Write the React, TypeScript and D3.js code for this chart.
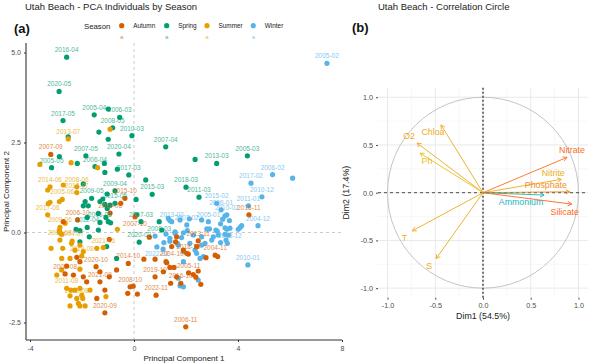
import React, { useEffect, useRef } from 'react'
import * as d3 from 'd3'

type Pt = [number, number, string]

// ---- panel (a): PCA individuals, [PC1, PC2, label]
const seasons = ['Autumn', 'Spring', 'Summer', 'Winter']
const seasonColors = ['#D55E00', '#009E73', '#E69F00', '#56B4E9']

const autumn: Pt[] = [
  [-3.20, 2.17, '2007-09'], [-0.35, 0.95, '2015-10'], [-0.51, 0.81, ''], [-2.17, 0.35, '2006-10'],
  [-2.72, 0.30, ''], [-0.92, 0.54, '2014-08'], [0.04, 0.44, '2007-10'], [0.59, -0.13, ''],
  [-0.95, -0.19, ''], [-2.20, -0.69, ''], [-2.08, -0.81, ''], [-2.59, -0.93, ''],
  [-2.65, -1.15, '2008-08'], [-2.33, -1.18, ''], [-1.95, -1.23, ''], [-1.31, -1.09, ''],
  [-1.46, -0.95, '2020-10'], [-0.95, -1.23, ''], [-0.67, -1.04, ''], [-1.31, -1.37, '2021-09'],
  [-1.82, -1.37, ''], [-1.12, -1.60, ''], [-1.43, -1.83, ''], [-1.12, -2.23, '2020-09'],
  [-0.22, -0.86, '2014-10'], [-0.15, -1.51, '2008-10'], [-0.03, -1.49, ''], [0.13, -1.71, ''],
  [-0.24, -1.69, ''], [0.38, -0.74, ''], [0.81, -0.74, ''], [1.26, -0.84, ''],
  [1.38, -0.97, ''], [0.81, -1.23, '2019-10'], [0.85, -1.74, '2022-11'], [1.41, -1.41, ''],
  [1.64, -1.23, ''], [1.13, -1.09, ''], [1.54, -0.97, ''], [1.80, -1.41, '2016-10'],
  [2.10, -1.12, '2005-11'], [2.28, -1.17, ''], [2.47, -1.07, ''], [2.38, -1.24, ''],
  [2.57, -1.44, ''], [1.99, -2.62, '2006-11'], [1.45, -0.39, '2004-10'], [1.90, -0.49, ''],
  [2.09, -0.60, '2018-10'], [1.23, -0.81, ''], [1.60, -0.26, ''], [2.47, -0.23, '2013-11'],
  [1.64, -0.12, ''], [2.41, -0.39, ''], [3.12, -0.63, '2004-11'], [3.22, -0.67, ''],
  [2.77, -0.70, ''], [4.42, 0.49, '2016-11'], [2.03, -0.58, ''],
]

const spring: Pt[] = [
  [-2.59, 4.87, '2016-04'], [-2.88, 3.92, '2020-05'], [-1.53, 3.27, '2005-04'], [-0.99, 3.43, ''],
  [-0.55, 3.20, '2006-03'], [-2.73, 3.11, '2017-05'], [-0.82, 2.91, '2008-05'], [-1.35, 2.79, ''],
  [-2.53, 2.66, ''], [-0.08, 2.69, '2010-03'], [-0.99, 2.59, ''], [1.22, 2.38, '2007-04'],
  [-1.85, 2.13, '2007-05'], [-0.58, 2.18, '2020-04'], [-2.87, 2.11, ''], [-3.17, 1.80, '2005-05'],
  [-2.18, 1.92, ''], [-1.50, 1.83, '2006-04'], [-1.14, 1.92, ''], [-1.12, 1.67, ''],
  [-0.64, 1.76, ''], [-0.20, 1.60, '2017-03'], [2.35, 2.03, ''], [0.45, 1.46, ''],
  [2.00, 1.26, '2018-03'], [0.70, 1.06, '2015-03'], [-0.73, 1.16, '2009-04'], [-1.95, 1.35, ''],
  [-1.63, 0.95, '2009-05'], [-1.20, 0.93, ''], [-1.03, 1.07, ''], [0.08, 0.92, ''],
  [2.50, 0.98, '2011-03'], [3.18, 1.92, '2013-03'], [4.36, 2.13, '2005-03'], [-1.31, 0.86, ''],
  [-1.88, 0.86, ''], [-0.92, 0.76, ''], [-1.12, 0.78, ''], [-1.03, 0.67, ''],
  [-0.73, 0.81, '2015-05'], [-1.37, 0.53, ''], [-1.08, 0.42, ''], [-1.80, 0.42, ''],
  [-1.31, 0.28, '2006-05'], [-0.99, 0.30, ''], [-0.90, 0.27, ''], [0.10, 0.49, ''],
  [0.97, 0.30, '2008-03'], [0.27, 0.30, '2007-03'], [0.20, -0.27, '2020-03'], [1.07, 0.07, ''],
  [-2.23, 0.09, ''], [-2.08, 0.05, ''], [-1.80, 0.14, '2012-04'], [-1.37, 0.07, ''],
  [-2.08, -0.26, ''], [-1.72, -0.12, ''], [-1.05, -0.39, ''], [-0.67, -0.72, ''],
  [-1.95, 0.74, ''], [-1.76, 0.74, ''],
]

const summer: Pt[] = [
  [-2.53, 2.60, '2013-07'], [-0.92, 2.87, ''], [-3.62, 1.89, ''], [-2.42, 1.94, ''],
  [-1.40, 1.80, ''], [-3.23, 1.27, '2014-06'], [-3.32, 1.18, ''], [-2.20, 1.27, '2008-06'],
  [-2.72, 1.32, ''], [-2.76, 0.92, '2005-06'], [-2.20, 1.11, '2012-07'], [-2.87, 0.86, ''],
  [-3.23, 0.84, ''], [-3.32, 0.49, '2017-06'], [-0.64, 0.09, ''], [-2.65, 0.26, ''],
  [-2.85, 0.14, '2009-06'], [-2.85, -0.01, ''], [-2.78, -0.05, ''], [-2.87, 0.05, ''],
  [-2.38, -0.24, '2004-07'], [-2.85, -0.21, '2009-07'], [-3.19, -0.44, ''], [-2.74, -0.44, ''],
  [-2.40, -0.30, ''], [-2.27, -0.49, ''], [-1.95, -0.53, ''], [-2.08, -0.35, ''],
  [-1.43, -0.44, ''], [-1.18, -0.42, '2021-06'], [-2.78, -0.72, ''], [-2.46, -0.72, ''],
  [-2.01, -0.65, '2019-08'], [-2.78, -1.04, ''], [-2.97, -1.18, ''], [-2.08, -1.02, ''],
  [-2.59, -1.55, '2011-08'], [-2.43, -1.60, ''], [-2.27, -1.60, ''], [-2.08, -1.55, ''],
  [-1.69, -1.60, ''], [-2.46, -1.76, ''], [-2.01, -1.74, ''], [-2.20, -1.83, '2013-08'],
  [-1.97, -1.83, ''], [-1.08, -1.78, ''], [-2.46, -2.04, ''], [-2.14, -1.97, ''],
  [-2.08, -2.04, ''], [-1.88, -2.04, ''], [-3.30, 0.80, ''],
]

const winter: Pt[] = [
  [7.42, 4.70, '2005-02'], [5.33, 1.61, '2006-02'], [6.10, 1.51, ''], [4.50, 1.37, '2017-02'],
  [4.92, 0.99, '2010-12'], [4.40, 0.74, '2011-01'], [3.18, 0.81, '2015-02'], [3.35, 0.63, '2006-01'],
  [3.57, 0.49, '2010-02'], [3.41, 0.37, ''], [3.67, 0.33, ''], [3.33, 0.24, ''],
  [4.77, 0.19, '2004-12'], [4.14, 0.19, ''], [4.08, 0.14, ''], [4.01, 0.09, ''],
  [3.50, 0.13, ''], [3.57, 0.09, ''], [3.69, 0.12, '2008-12'], [3.20, 0.04, ''],
  [2.80, 0.10, ''], [2.90, 0.10, ''], [2.60, 0.35, ''], [2.86, 0.30, '2005-01'],
  [2.13, 0.38, ''], [2.03, 0.21, '2007-02'], [1.45, 0.30, '2013-02'], [1.38, 0.33, ''],
  [1.77, 0.35, ''], [1.32, 0.39, ''], [1.23, -0.04, ''], [1.58, -0.02, ''],
  [1.38, -0.16, ''], [1.83, -0.14, ''], [1.67, -0.30, ''], [0.81, -0.10, ''],
  [1.15, -0.28, ''], [1.70, -0.35, ''], [2.15, -0.30, ''], [2.73, -0.30, ''],
  [2.99, -0.21, ''], [3.33, -0.28, ''], [3.54, -0.21, ''], [3.59, -0.30, ''],
  [3.24, -0.07, ''], [3.50, -0.05, ''], [2.60, -0.12, ''], [2.28, -0.07, ''],
  [2.05, 0.05, ''], [1.90, -0.01, ''], [1.58, 0.02, ''], [1.38, -0.24, ''],
  [1.90, -0.53, ''], [2.41, -0.58, ''], [2.54, -0.72, ''], [2.60, -0.35, ''],
  [2.35, -0.49, ''], [2.67, -0.67, ''], [4.38, -0.90, '2010-01'], [1.90, -0.81, ''],
  [1.90, -1.51, ''], [1.77, -1.48, ''], [2.47, -1.32, ''], [3.50, 0.46, ''],
  [3.05, -0.12, ''], [3.63, -0.07, ''], [3.15, 0.07, ''], [1.70, -1.27, ''],
  [0.88, -0.40, '2022-02'], [1.12, -0.46, ''],
]

const pcaTicksX = [-4, 0, 4, 8]
const pcaTicksY = [-2.5, 0, 2.5, 5]

// labels that sit under their point instead of above
const labelsBelow = ['2007-10', '2008-03', '2022-02', '2004-10', '2008-12']

// ---- panel (b): variable coordinates on Dim1 / Dim2
const vars = ['Nitrate', 'Nitrite', 'Phosphate', 'Ammonium', 'Silicate', 'T', 'S', 'Chloa', 'O2', 'Ph']
const dim1 = [0.88, 0.82, 0.91, 0.64, 0.93, -0.74, -0.49, -0.44, -0.69, -0.66]
const dim2 = [0.37, 0.14, 0.01, -0.025, -0.12, -0.40, -0.69, 0.71, 0.52, 0.415]
const contrib = [14, 11, 12.5, 5, 14.5, 11, 11, 11, 11, 10]
const circleTicks = [-1, -0.5, 0, 0.5, 1]
const circleMinor = [-0.75, -0.25, 0.25, 0.75]

// label nudges (px) for the variable names
const nudges: [number, number][] = [[5, -7], [-8, -6], [-24, -6], [-23, 8], [-7, 9], [-8, 8], [-7, 8], [-8, 8], [-8, -6], [7, 9]]

const font = 'Liberation Sans, Arial, sans-serif'

function App() {
  const svgRef = useRef<SVGSVGElement>(null)

  useEffect(() => {
    const svg = d3.select(svgRef.current)
    svg.selectAll('*').remove()

    // ---------------- panel (a)
    const x = d3.scaleLinear().domain([-4, 8]).range([30, 342])
    const y = d3.scaleLinear().domain([-2.5, 5]).range([322.5, 52.5])
    const left = 26, right = 342, top = 43, bottom = 340

    svg.append('text').attr('x', 25).attr('y', 10).text('Utah Beach - PCA Individuals by Season')
      .attr('font-size', 9.5).attr('fill', '#222').attr('font-family', font)
    svg.append('text').attr('x', 14).attr('y', 33).text('(a)')
      .attr('font-size', 13).attr('font-weight', 'bold').attr('fill', '#111').attr('font-family', font)

    // legend
    const lg = svg.append('g').attr('font-family', font)
    lg.append('text').attr('x', 84).attr('y', 28.5).text('Season').attr('font-size', 7.8).attr('fill', '#222')
    const legX = [121.7, 166.7, 207, 253.3]
    seasons.forEach((s, i) => {
      lg.append('circle').attr('cx', legX[i]).attr('cy', 25.7).attr('r', 2.6).attr('fill', seasonColors[i])
      lg.append('text').attr('x', legX[i] + 11.5).attr('y', 28).text(s).attr('font-size', 6.4).attr('fill', '#222')
      lg.append('text').attr('x', legX[i]).attr('y', 38.5).text('a').attr('font-size', 6)
        .attr('text-anchor', 'middle').attr('fill', seasonColors[i]).attr('opacity', 0.7)
    })

    // zero reference lines
    svg.append('line').attr('x1', x(0)).attr('x2', x(0)).attr('y1', top).attr('y2', bottom)
      .attr('stroke', '#bdbdbd').attr('stroke-width', 0.8).attr('stroke-dasharray', '3,3')
    svg.append('line').attr('x1', left).attr('x2', right).attr('y1', y(0)).attr('y2', y(0))
      .attr('stroke', '#bdbdbd').attr('stroke-width', 0.8).attr('stroke-dasharray', '3,3')

    // axes
    const ax = svg.append('g').attr('transform', `translate(0,${bottom})`)
      .call(d3.axisBottom(x).tickValues(pcaTicksX).tickSize(2).tickFormat(d => String(d)))
    const ay = svg.append('g').attr('transform', `translate(${left},0)`)
      .call(d3.axisLeft(y).tickValues(pcaTicksY).tickSize(2).tickFormat(d => (+d).toFixed(1)))
    ;[ax, ay].forEach(g => {
      g.select('.domain').remove()
      g.selectAll('text').attr('font-size', 7).attr('fill', '#4d4d4d').attr('font-family', font)
      g.selectAll('line').attr('stroke', '#333')
    })
    ax.selectAll('text').attr('dy', '0.8em')
    svg.append('line').attr('x1', left).attr('x2', left).attr('y1', top).attr('y2', bottom)
      .attr('stroke', '#333').attr('stroke-width', 1.1)
    svg.append('line').attr('x1', left).attr('x2', right).attr('y1', bottom).attr('y2', bottom)
      .attr('stroke', '#333').attr('stroke-width', 1.1)

    svg.append('text').attr('x', (left + right) / 2).attr('y', 361).attr('text-anchor', 'middle')
      .text('Principal Component 1').attr('font-size', 8).attr('fill', '#222').attr('font-family', font)
    svg.append('text').attr('transform', `translate(8.5,${(top + bottom) / 2}) rotate(-90)`)
      .attr('text-anchor', 'middle').text('Principal Component 2')
      .attr('font-size', 8).attr('fill', '#222').attr('font-family', font)

    const groups: [Pt[], string][] = [
      [winter, seasonColors[3]], [spring, seasonColors[1]], [summer, seasonColors[2]], [autumn, seasonColors[0]],
    ]
    groups.forEach(([pts, col]) => {
      svg.append('g').selectAll('circle').data(pts).join('circle')
        .attr('cx', d => x(d[0])).attr('cy', d => y(d[1])).attr('r', 2.6).attr('fill', col)
    })
    groups.forEach(([pts, col]) => {
      svg.append('g').selectAll('text').data(pts.filter(d => d[2] !== '')).join('text')
        .attr('x', d => x(d[0]))
        .attr('y', d => labelsBelow.includes(d[2]) ? y(d[1]) + 9.5 : y(d[1]) - 5)
        .attr('text-anchor', 'middle').text(d => d[2])
        .attr('font-size', 6.5).attr('font-family', font).attr('fill', col).attr('opacity', 0.72)
    })

    // ---------------- panel (b)
    const cx = d3.scaleLinear().domain([-1.1, 1.1]).range([378, 588])
    const cy = d3.scaleLinear().domain([-1.1, 1.1]).range([297.7, 87.7])

    svg.append('text').attr('x', 378).attr('y', 10).text('Utah Beach - Correlation Circle')
      .attr('font-size', 9.5).attr('fill', '#222').attr('font-family', font)
    svg.append('text').attr('x', 352).attr('y', 32).text('(b)')
      .attr('font-size', 13).attr('font-weight', 'bold').attr('fill', '#111').attr('font-family', font)

    const grid = svg.append('g')
    circleMinor.forEach(v => {
      grid.append('line').attr('x1', cx(v)).attr('x2', cx(v)).attr('y1', cy(1.1)).attr('y2', cy(-1.1))
        .attr('stroke', '#f2f2f2').attr('stroke-width', 0.6)
      grid.append('line').attr('x1', cx(-1.1)).attr('x2', cx(1.1)).attr('y1', cy(v)).attr('y2', cy(v))
        .attr('stroke', '#f2f2f2').attr('stroke-width', 0.6)
    })
    circleTicks.forEach(v => {
      grid.append('line').attr('x1', cx(v)).attr('x2', cx(v)).attr('y1', cy(1.1)).attr('y2', cy(-1.1))
        .attr('stroke', '#e6e6e6').attr('stroke-width', 0.9)
      grid.append('line').attr('x1', cx(-1.1)).attr('x2', cx(1.1)).attr('y1', cy(v)).attr('y2', cy(v))
        .attr('stroke', '#e6e6e6').attr('stroke-width', 0.9)
    })

    const bx = svg.append('g').attr('transform', `translate(0,${cy(-1.1)})`)
      .call(d3.axisBottom(cx).tickValues(circleTicks).tickSize(2).tickFormat(d => (+d).toFixed(1)))
    const by = svg.append('g').attr('transform', `translate(${cx(-1.1)},0)`)
      .call(d3.axisLeft(cy).tickValues(circleTicks).tickSize(2).tickFormat(d => (+d).toFixed(1)))
    ;[bx, by].forEach(g => {
      g.select('.domain').remove()
      g.selectAll('text').attr('font-size', 7.2).attr('fill', '#4d4d4d').attr('font-family', font)
      g.selectAll('line').attr('stroke', '#4d4d4d')
    })
    bx.selectAll('text').attr('dy', '0.71em')

    svg.append('circle').attr('cx', cx(0)).attr('cy', cy(0)).attr('r', cx(1) - cx(0))
      .attr('fill', 'none').attr('stroke', '#bdbdbd').attr('stroke-width', 0.9)

    svg.append('line').attr('x1', cx(0)).attr('x2', cx(0)).attr('y1', cy(1.1)).attr('y2', cy(-1.1))
      .attr('stroke', '#555').attr('stroke-width', 1.6).attr('stroke-dasharray', '2,2')
    svg.append('line').attr('x1', cx(-1.1)).attr('x2', cx(1.1)).attr('y1', cy(0)).attr('y2', cy(0))
      .attr('stroke', '#222').attr('stroke-width', 0.8).attr('stroke-dasharray', '3,3')

    const col = d3.scaleLinear<string>().domain([5, 10, 15]).range(['#00AFBB', '#E7B800', '#FC4E07'])
    const arrows = svg.append('g').attr('opacity', 0.9)
    vars.forEach((v, i) => {
      const sx = cx(0), sy = cy(0), ex = cx(dim1[i]), ey = cy(dim2[i])
      const c = col(contrib[i])
      const a = Math.atan2(ey - sy, ex - sx)
      const hl = 4.5
      arrows.append('line').attr('x1', sx).attr('y1', sy).attr('x2', ex).attr('y2', ey)
        .attr('stroke', c).attr('stroke-width', 0.9)
      arrows.append('path')
        .attr('d', `M${ex - hl * Math.cos(a - 0.5)},${ey - hl * Math.sin(a - 0.5)}L${ex},${ey}L${ex - hl * Math.cos(a + 0.5)},${ey - hl * Math.sin(a + 0.5)}`)
        .attr('fill', 'none').attr('stroke', c).attr('stroke-width', 0.9)
      arrows.append('text').attr('x', ex + nudges[i][0]).attr('y', ey + nudges[i][1])
        .attr('text-anchor', 'middle').attr('dominant-baseline', 'middle').text(v)
        .attr('font-size', 8.8).attr('font-family', font).attr('fill', c)
    })

    svg.append('text').attr('x', cx(0)).attr('y', 319).attr('text-anchor', 'middle').text('Dim1 (54.5%)')
      .attr('font-size', 8.8).attr('fill', '#222').attr('font-family', font)
    svg.append('text').attr('transform', `translate(349,${cy(0)}) rotate(-90)`).attr('text-anchor', 'middle')
      .text('Dim2 (17.4%)').attr('font-size', 8.8).attr('fill', '#222').attr('font-family', font)
  }, [])

  return (
    <svg ref={svgRef} width={589} height={364}
      style={{ position: 'absolute', left: 0, top: 0, background: '#fff' }} />
  )
}

export default App
